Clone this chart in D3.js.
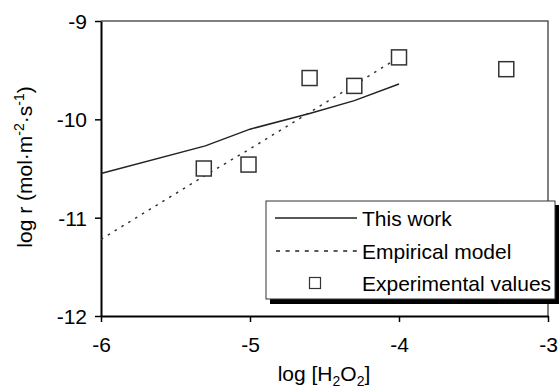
<!DOCTYPE html>
<html>
<head>
<meta charset="utf-8">
<script src="https://cdn.jsdelivr.net/npm/d3@7"></script>
<style>
  body { margin: 0; background: #fff; }
  svg { font-family: "Liberation Sans", Arial, sans-serif; }
</style>
</head>
<body>
<svg id="chart" width="560" height="388"></svg>
<script>
// Data
const xTicks = [-6, -5, -4, -3];
const yTicks = [-9, -10, -11, -12];

const modelX = [-6, -5.3, -5, -4.6, -4.3, -4];
const modelY = [-10.55, -10.27, -10.1, -9.94, -9.81, -9.64];

const empiricalX = [-6, -5.3, -5, -4.6, -4.3, -4];
const empiricalY = [-11.22, -10.57, -10.3, -9.93, -9.65, -9.37];

const expX = [-5.31, -5.01, -4.6, -4.3, -4.0, -3.28];
const expY = [-10.5, -10.46, -9.58, -9.66, -9.37, -9.49];

const legendLabels = ["This work", "Empirical model", "Experimental values"];

// Layout
const plotLeft = 101, plotRight = 548, plotTop = 21, plotBottom = 316;
const fontSize = 21;
const svg = d3.select("#chart");

const x = d3.scaleLinear().domain([-6, -3]).range([plotLeft, plotRight]);
const y = d3.scaleLinear().domain([-12, -9]).range([plotBottom, plotTop]);

// Frame (top & right)
svg.append("path")
  .attr("d", `M${plotLeft},${plotTop}H${plotRight}V${plotBottom}`)
  .attr("fill", "none")
  .attr("stroke", "#555")
  .attr("stroke-width", 1.5);

// Axes
const xAxis = svg.append("g")
  .attr("transform", `translate(0,${plotBottom})`)
  .call(d3.axisBottom(x).tickValues(xTicks).tickSize(6).tickSizeOuter(0).tickFormat(d3.format("d")));
const yAxis = svg.append("g")
  .attr("transform", `translate(${plotLeft},0)`)
  .call(d3.axisLeft(y).tickValues(yTicks).tickSize(6).tickSizeOuter(0).tickFormat(d3.format("d")));

[xAxis, yAxis].forEach((g) => {
  g.select(".domain").attr("stroke", "#000").attr("stroke-width", 2);
  g.selectAll(".tick line").attr("stroke", "#000").attr("stroke-width", 1.5);
  g.selectAll(".tick text").attr("font-size", fontSize).attr("fill", "#000")
    .attr("font-family", "Liberation Sans, Arial, sans-serif")
    .text((d) => String(d));
});
xAxis.selectAll(".tick text").attr("y", 36).attr("dy", 0);
yAxis.selectAll(".tick text").attr("x", -14).attr("dy", "0.35em");

// Lines
const line = d3.line().x((d) => x(d[0])).y((d) => y(d[1]));

svg.append("path")
  .datum(modelX.map((v, i) => [v, modelY[i]]))
  .attr("d", line)
  .attr("fill", "none")
  .attr("stroke", "#222")
  .attr("stroke-width", 1.5);

svg.append("path")
  .datum(empiricalX.map((v, i) => [v, empiricalY[i]]))
  .attr("d", line)
  .attr("fill", "none")
  .attr("stroke", "#333")
  .attr("stroke-width", 1.5)
  .attr("stroke-dasharray", "2.5,5.5");

// Experimental squares
const sq = 15;
svg.selectAll("rect.exp")
  .data(expX.map((v, i) => [v, expY[i]]))
  .enter()
  .append("rect")
  .attr("class", "exp")
  .attr("x", (d) => x(d[0]) - sq / 2)
  .attr("y", (d) => y(d[1]) - sq / 2)
  .attr("width", sq)
  .attr("height", sq)
  .attr("fill", "#fff")
  .attr("stroke", "#333")
  .attr("stroke-width", 1.5);

// Legend
const lg = svg.append("g");
lg.append("rect").attr("x", 270).attr("y", 205).attr("width", 289).attr("height", 99).attr("fill", "#000");
lg.append("rect").attr("x", 266).attr("y", 201).attr("width", 289).attr("height", 98)
  .attr("fill", "#fff").attr("stroke", "#333").attr("stroke-width", 1);

const rowY = [218, 251, 283];
lg.append("line").attr("x1", 275).attr("x2", 357).attr("y1", rowY[0]).attr("y2", rowY[0])
  .attr("stroke", "#222").attr("stroke-width", 1.5);
lg.append("line").attr("x1", 276).attr("x2", 357).attr("y1", rowY[1]).attr("y2", rowY[1])
  .attr("stroke", "#222").attr("stroke-width", 1.5).attr("stroke-dasharray", "4,5.6");
lg.append("rect").attr("x", 309.5).attr("y", rowY[2] - 5.5).attr("width", 11).attr("height", 11)
  .attr("fill", "#fff").attr("stroke", "#333").attr("stroke-width", 1.2);

lg.selectAll("text.lab")
  .data(legendLabels)
  .enter()
  .append("text")
  .attr("class", "lab")
  .attr("x", 362)
  .attr("y", (d, i) => rowY[i] + 8)
  .attr("font-size", fontSize)
  .text((d) => d);

// Axis titles
const subSize = 14;
const xt = svg.append("text")
  .attr("x", 324)
  .attr("y", 381)
  .attr("text-anchor", "middle")
  .attr("font-size", fontSize);
xt.append("tspan").text("log [H");
xt.append("tspan").attr("font-size", subSize).attr("dy", 5).text("2");
xt.append("tspan").attr("dy", -5).text("O");
xt.append("tspan").attr("font-size", subSize).attr("dy", 5).text("2");
xt.append("tspan").attr("dy", -5).text("]");

const yt = svg.append("text")
  .attr("transform", "translate(32,167) rotate(-90)")
  .attr("text-anchor", "middle")
  .attr("font-size", fontSize);
yt.append("tspan").text("log r (mol·m");
yt.append("tspan").attr("font-size", subSize).attr("dy", -8).text("-2");
yt.append("tspan").attr("dy", 8).text("·s");
yt.append("tspan").attr("font-size", subSize).attr("dy", -8).text("-1");
yt.append("tspan").attr("dy", 8).text(")");
</script>
</body>
</html>
